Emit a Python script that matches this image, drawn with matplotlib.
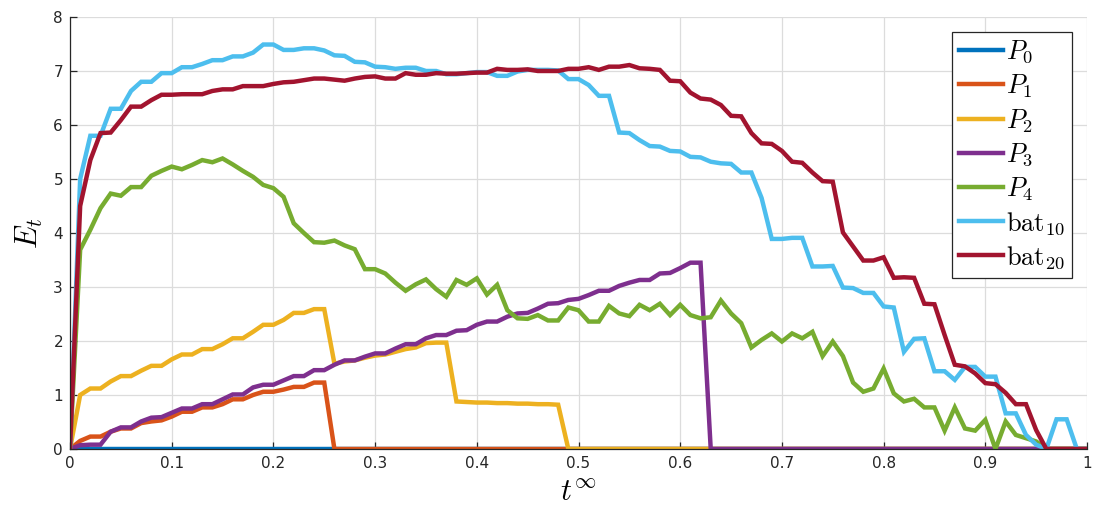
import matplotlib.pyplot as plt
import numpy as np

plt.rcParams["mathtext.fontset"] = "cm"
plt.rcParams["font.family"] = "DejaVu Sans"

# time grid, step 0.01
t = np.round(np.arange(101) * 0.01, 2)

P0 = [0.0] * 101

P1 = [0, 0.15, 0.23, 0.23, 0.32, 0.38, 0.38, 0.48, 0.51, 0.53,
      0.60, 0.69, 0.69, 0.77, 0.77, 0.83, 0.92, 0.92, 1.00, 1.06,
      1.06, 1.10, 1.15, 1.15, 1.23, 1.23] + [0.0] * 75

P2 = [0, 1.00, 1.12, 1.12, 1.25, 1.35, 1.35, 1.45, 1.54, 1.54,
      1.66, 1.75, 1.75, 1.85, 1.85, 1.94, 2.05, 2.05, 2.17, 2.30,
      2.30, 2.39, 2.52, 2.52, 2.59, 2.59, 1.58, 1.62, 1.64, 1.69,
      1.73, 1.75, 1.80, 1.85, 1.88, 1.96, 1.97, 1.97, 0.88, 0.87,
      0.86, 0.86, 0.85, 0.85, 0.84, 0.84, 0.83, 0.83, 0.82] + [0.0] * 52

P3 = [0, 0.07, 0.08, 0.08, 0.32, 0.40, 0.40, 0.51, 0.58, 0.59,
      0.67, 0.75, 0.75, 0.83, 0.83, 0.92, 1.01, 1.01, 1.14, 1.19,
      1.19, 1.27, 1.35, 1.35, 1.46, 1.46, 1.56, 1.64, 1.64, 1.71,
      1.77, 1.77, 1.86, 1.94, 1.94, 2.05, 2.11, 2.11, 2.19, 2.20,
      2.30, 2.36, 2.36, 2.45, 2.51, 2.52, 2.60, 2.69, 2.70, 2.76,
      2.78, 2.85, 2.93, 2.93, 3.02, 3.08, 3.13, 3.13, 3.25, 3.26,
      3.35, 3.45, 3.45] + [0.0] * 38

P4 = [0, 3.69, 4.06, 4.46, 4.73, 4.69, 4.85, 4.85, 5.06, 5.15,
      5.23, 5.18, 5.26, 5.35, 5.31, 5.38, 5.27, 5.15, 5.04, 4.89,
      4.83, 4.67, 4.18, 4.00, 3.83, 3.82, 3.86, 3.77, 3.70, 3.33,
      3.33, 3.25, 3.08, 2.93, 3.05, 3.14, 2.96, 2.82, 3.13, 3.04,
      3.16, 2.86, 3.04, 2.57, 2.42, 2.41, 2.48, 2.38, 2.38, 2.62,
      2.57, 2.36, 2.36, 2.65, 2.51, 2.46, 2.67, 2.57, 2.69, 2.48,
      2.67, 2.48, 2.42, 2.44, 2.75, 2.51, 2.33, 1.88, 2.02, 2.14,
      1.99, 2.14, 2.05, 2.17, 1.72, 1.99, 1.72, 1.23, 1.06, 1.12,
      1.49, 1.03, 0.88, 0.93, 0.77, 0.77, 0.34, 0.77, 0.38, 0.34,
      0.54, 0.00, 0.51, 0.26, 0.20, 0.14, 0, 0, 0, 0,
      0]

bat10 = [0, 5.00, 5.80, 5.80, 6.30, 6.30, 6.63, 6.80, 6.80, 6.96,
         6.96, 7.07, 7.07, 7.13, 7.20, 7.20, 7.27, 7.27, 7.34, 7.49,
         7.49, 7.39, 7.39, 7.42, 7.42, 7.38, 7.29, 7.28, 7.17, 7.16,
         7.08, 7.07, 7.04, 7.06, 7.06, 7.00, 7.00, 6.94, 6.94, 6.96,
         6.98, 6.98, 6.91, 6.91, 6.99, 7.02, 7.02, 7.02, 7.01, 6.85,
         6.85, 6.74, 6.54, 6.54, 5.86, 5.85, 5.72, 5.61, 5.60, 5.52,
         5.51, 5.41, 5.40, 5.32, 5.29, 5.28, 5.12, 5.12, 4.65, 3.89,
         3.89, 3.91, 3.91, 3.38, 3.38, 3.39, 2.99, 2.98, 2.89, 2.89,
         2.64, 2.62, 1.80, 2.04, 2.05, 1.44, 1.44, 1.28, 1.52, 1.52,
         1.34, 1.34, 0.66, 0.66, 0.26, 0.08, 0.00, 0.55, 0.55, 0.00,
         0]

bat20 = [0, 4.50, 5.35, 5.85, 5.86, 6.09, 6.34, 6.34, 6.46, 6.56,
         6.56, 6.57, 6.57, 6.57, 6.63, 6.66, 6.66, 6.72, 6.72, 6.72,
         6.76, 6.79, 6.80, 6.83, 6.86, 6.86, 6.84, 6.82, 6.86, 6.89,
         6.90, 6.86, 6.86, 6.96, 6.93, 6.93, 6.96, 6.95, 6.95, 6.96,
         6.97, 6.97, 7.04, 7.02, 7.02, 7.03, 7.00, 7.00, 7.00, 7.04,
         7.04, 7.07, 7.02, 7.08, 7.08, 7.11, 7.05, 7.04, 7.02, 6.82,
         6.81, 6.60, 6.49, 6.47, 6.37, 6.17, 6.16, 5.85, 5.66, 5.65,
         5.52, 5.32, 5.30, 5.12, 4.96, 4.95, 4.01, 3.75, 3.49, 3.49,
         3.55, 3.17, 3.18, 3.17, 2.69, 2.68, 2.11, 1.56, 1.53, 1.40,
         1.22, 1.20, 1.04, 0.83, 0.83, 0.35, 0, 0, 0, 0,
         0]

series = [P0, P1, P2, P3, P4, bat10, bat20]
labels = [r"$P_0$", r"$P_1$", r"$P_2$", r"$P_3$", r"$P_4$",
          r"$\mathrm{bat}_{10}$", r"$\mathrm{bat}_{20}$"]
colors = ["#0072BD", "#D95319", "#EDB120", "#7E2F8E", "#77AC30",
          "#4DBEEE", "#A2142F"]

fig = plt.figure(figsize=(10.97, 5.07), dpi=100)
ax = fig.add_axes([0.0638, 0.1144, 0.9271, 0.8521])

for y, lab, c in zip(series, labels, colors):
    ax.plot(t, y, color=c, lw=3.2, label=lab, solid_joinstyle="miter")

ax.set_xlim(0, 1)
ax.set_ylim(0, 8)
xt = np.round(np.arange(11) * 0.1, 1)
ax.set_xticks(xt)
ax.set_xticklabels(["0", "0.1", "0.2", "0.3", "0.4", "0.5", "0.6", "0.7",
                    "0.8", "0.9", "1"])
ax.set_yticks(range(9))
ax.grid(True, color="#dcdcdc", lw=0.9)
ax.set_axisbelow(True)

for side in ["top", "right"]:
    ax.spines[side].set_visible(False)
for side in ["left", "bottom"]:
    ax.spines[side].set_color("#262626")
    ax.spines[side].set_linewidth(0.9)
ax.tick_params(direction="in", length=5, width=0.9, colors="#262626",
               labelsize=11, pad=5)

ax.set_xlabel(r"$t^{\infty}$", fontsize=22, labelpad=5)
ax.set_ylabel(r"$E_t$", fontsize=22, labelpad=6)

leg = ax.legend(loc="upper right", bbox_to_anchor=(0.9853, 0.9653),
                borderaxespad=0, fontsize=19, fancybox=False,
                framealpha=1, edgecolor="#262626", handlelength=1.65,
                labelspacing=0.27, handletextpad=0.15, borderpad=0.25)
leg.get_frame().set_linewidth(0.9)

plt.savefig("out.png", dpi=100)
